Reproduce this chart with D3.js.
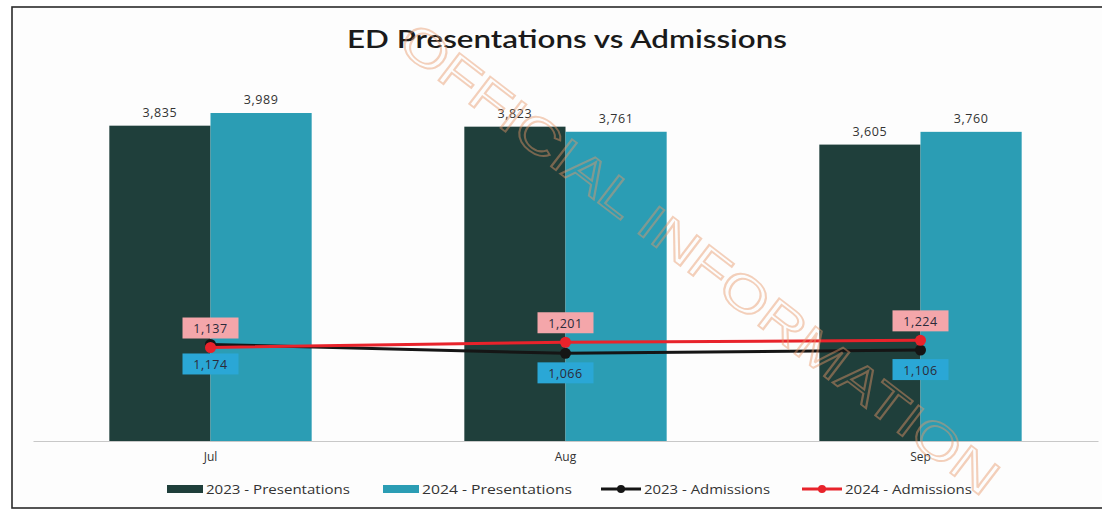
<!DOCTYPE html>
<html>
<head>
<meta charset="utf-8">
<script src="https://cdn.jsdelivr.net/npm/d3@7"></script>
<style>
  html, body { margin: 0; padding: 0; background: #ffffff; }
  svg { display: block; font-family: "Open Sans", "Noto Sans", sans-serif; }
</style>
</head>
<body>
<svg id="chart" width="1102" height="510"></svg>
<script>
// ---- data ----
const months = ["Jul", "Aug", "Sep"];
const presentations2023 = [3835, 3823, 3605];
const presentations2024 = [3989, 3761, 3760];
const admissions2023 = [1174, 1066, 1106];
const admissions2024 = [1137, 1201, 1224];
const barSeries = ["2023 - Presentations", "2024 - Presentations"];
const lineSeries = ["2023 - Admissions", "2024 - Admissions"];
const chartTitle = "ED Presentations vs Admissions";

const colors = {
  p2023: "#1f3f3b",
  p2024: "#2b9db4",
  a2023: "#151515",
  a2024: "#e8232b",
  pinkBox: "#f4a6aa",
  blueBox: "#2aa7d6"
};

const svg = d3.select("#chart");
const W = 1102, H = 510;
const fmt = d3.format(",");

// frame
svg.append("rect").attr("x", 0).attr("y", 0).attr("width", W).attr("height", H).attr("fill", "#ffffff");
svg.append("rect").attr("x", 12).attr("y", 7).attr("width", 1100).attr("height", 501)
  .attr("fill", "#fdfdfd").attr("stroke", "#2a2a2a").attr("stroke-width", 1.6);

// scales
const x0 = d3.scaleBand().domain(months).range([33, 1098]).paddingInner(0.43).paddingOuter(0.215);
const x1 = d3.scaleBand().domain(barSeries).range([0, x0.bandwidth()]).padding(0);
const y = d3.scaleLinear().domain([0, 4500]).range([441, 71]);

// title
svg.append("text").attr("x", 567).attr("y", 48).attr("text-anchor", "middle")
  .attr("font-family", "Lato, 'Open Sans', sans-serif").attr("font-weight", 600)
  .attr("font-size", 24).attr("fill", "#1a1a1a")
  .attr("textLength", 440).attr("lengthAdjust", "spacingAndGlyphs")
  .text(chartTitle);

// baseline axis
const xAxis = d3.axisBottom(x0).tickSize(0).tickPadding(11);
const gx = svg.append("g").attr("transform", `translate(0,${y(0)})`).call(xAxis);
gx.select(".domain").attr("stroke", "#c8c8c8").attr("stroke-width", 1.2);
gx.selectAll("text").attr("font-size", 12).attr("fill", "#333").attr("font-family", "'Open Sans', sans-serif");

// bars
const barData = months.map((m, i) => ({ m, vals: [presentations2023[i], presentations2024[i]] }));
const barColors = [colors.p2023, colors.p2024];
const groups = svg.append("g").selectAll("g").data(barData).join("g")
  .attr("transform", d => `translate(${x0(d.m)},0)`);
groups.selectAll("rect").data(d => d.vals.map((v, k) => ({ s: barSeries[k], v, k }))).join("rect")
  .attr("x", d => x1(d.s)).attr("width", x1.bandwidth())
  .attr("y", d => y(d.v)).attr("height", d => y(0) - y(d.v))
  .attr("fill", d => barColors[d.k]);
groups.selectAll("text.bl").data(d => d.vals.map((v, k) => ({ s: barSeries[k], v, k }))).join("text")
  .attr("class", "bl")
  .attr("x", d => x1(d.s) + x1.bandwidth() / 2).attr("y", d => y(d.v) - 9)
  .attr("text-anchor", "middle").attr("font-size", 12.5).attr("fill", "#333")
  .attr("letter-spacing", 0.6)
  .text(d => fmt(d.v));

// admissions lines
const cx = m => x0(m) + x0.bandwidth() / 2;
const line = d3.line().x(d => cx(d.m)).y(d => y(d.v));
const a23 = months.map((m, i) => ({ m, v: admissions2023[i] }));
const a24 = months.map((m, i) => ({ m, v: admissions2024[i] }));

svg.append("path").datum(a23).attr("d", line).attr("fill", "none")
  .attr("stroke", colors.a2023).attr("stroke-width", 3);
svg.append("g").selectAll("circle").data(a23).join("circle")
  .attr("cx", d => cx(d.m)).attr("cy", d => y(d.v)).attr("r", 5.5).attr("fill", colors.a2023);

svg.append("path").datum(a24).attr("d", line).attr("fill", "none")
  .attr("stroke", colors.a2024).attr("stroke-width", 3);
svg.append("g").selectAll("circle").data(a24).join("circle")
  .attr("cx", d => cx(d.m)).attr("cy", d => y(d.v)).attr("r", 5.5).attr("fill", colors.a2024);

// value boxes for admissions
function boxLabel(data, dy, fill) {
  const g = svg.append("g").selectAll("g").data(data).join("g")
    .attr("transform", d => `translate(${cx(d.m)},${y(d.v) + dy})`);
  g.append("rect").attr("x", -28).attr("y", -11).attr("width", 56).attr("height", 21).attr("fill", fill);
  g.append("text").attr("text-anchor", "middle").attr("y", 4.5).attr("font-size", 12.5)
    .attr("letter-spacing", 0.5).attr("fill", "#2b2b3a").text(d => fmt(d.v));
}
boxLabel(a24, -19, colors.pinkBox);
boxLabel(a23, 20, colors.blueBox);

// legend
const leg = svg.append("g").attr("font-size", 13).attr("fill", "#333");
const legItems = [
  { label: barSeries[0], x: 167, type: "bar", color: colors.p2023, w: 144 },
  { label: barSeries[1], x: 383, type: "bar", color: colors.p2024, w: 150 },
  { label: lineSeries[0], x: 601, type: "line", color: colors.a2023, w: 126 },
  { label: lineSeries[1], x: 802, type: "line", color: colors.a2024, w: 127 }
];
legItems.forEach(it => {
  const g = leg.append("g").attr("transform", `translate(${it.x},489)`);
  if (it.type === "bar") {
    g.append("rect").attr("x", 0).attr("y", -4).attr("width", 36).attr("height", 8).attr("fill", it.color);
    g.append("text").attr("x", 39).attr("y", 4.5).attr("fill", "#333")
      .attr("textLength", it.w).attr("lengthAdjust", "spacingAndGlyphs").text(it.label);
  } else {
    g.append("line").attr("x1", 0).attr("x2", 40).attr("y1", 0).attr("y2", 0)
      .attr("stroke", it.color).attr("stroke-width", 3);
    g.append("circle").attr("cx", 20).attr("cy", 0).attr("r", 4).attr("fill", it.color);
    g.append("text").attr("x", 43).attr("y", 4.5).attr("fill", "#333")
      .attr("textLength", it.w).attr("lengthAdjust", "spacingAndGlyphs").text(it.label);
  }
});

// classification watermark
svg.append("text")
  .attr("transform", "translate(697,262) rotate(37.5)")
  .attr("text-anchor", "middle").attr("dominant-baseline", "middle")
  .attr("font-family", "'Liberation Sans', Arial, sans-serif")
  .attr("font-size", 50).attr("fill", "none")
  .attr("stroke", "rgba(230,150,105,0.45)").attr("stroke-width", 1.8)
  .attr("textLength", 740).attr("lengthAdjust", "spacingAndGlyphs")
  .text("OFFICIAL INFORMATION");
</script>
</body>
</html>
